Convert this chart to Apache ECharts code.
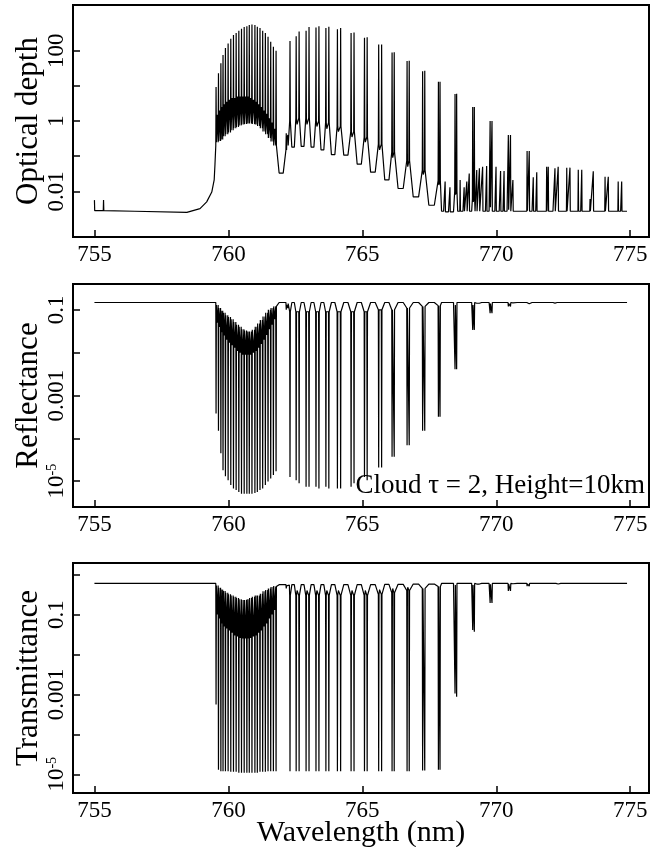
<!DOCTYPE html>
<html>
<head>
<meta charset="utf-8">
<script src="https://cdn.jsdelivr.net/npm/echarts@6.0.0/dist/echarts.min.js"></script>
<style>
html, body { margin: 0; padding: 0; background: #fff; }
#chart { width: 670px; height: 847px; }
</style>
</head>
<body>
<div id="chart"></div>
<script>
// O2 A-band: optical depth, reflectance, transmittance (cloud tau=2 at 10 km)
var SERIF = '"Liberation Serif", "Times New Roman", serif';

// line centres (nm)
var lineNm = [
  759.54, 759.63, 759.72, 759.80, 759.89, 759.99, 760.09, 760.19, 760.29, 760.39,
  760.49, 760.59, 760.69, 760.78, 760.88, 760.99, 761.08, 761.18, 761.28, 761.38,
  761.48, 761.58, 761.68, 761.78, 762.16, 762.22, 762.30, 762.53, 762.64, 762.90,
  763.01, 763.27, 763.38, 763.64, 763.75, 764.07, 764.19, 764.58, 764.69, 765.08,
  765.18, 765.61, 765.72, 766.11, 766.19, 766.67, 766.75, 767.25, 767.33, 767.84,
  767.90, 768.09, 768.27, 768.46, 768.52, 768.65, 768.80, 768.90, 768.99, 769.12,
  769.18, 769.27, 769.37, 769.49, 769.64, 769.77, 769.84, 769.99, 770.16, 770.29,
  770.45, 770.53, 770.62, 771.15, 771.23, 771.38, 771.51, 771.88, 771.94, 772.19,
  772.31, 772.63, 772.75, 773.06, 773.19, 773.50, 773.62, 774.06, 774.18, 774.55,
  774.68
];

// optical depth at line centre / at the foot of the line (null = flat) / between lines
var tauPeak = [
  9.3, 23, 44, 76, 120, 160, 220, 280, 320, 370,
  420, 470, 500, 540, 560, 540, 480, 440, 370, 320,
  250, 180, 130, 100, 0.45, 0.4, 190, 260, 350, 370,
  470, 460, 500, 440, 480, 410, 440, 320, 330, 235,
  240, 150, 150, 89, 91, 51, 52, 26, 27, 13,
  13, 0.019, 0.013, 5.9, 6, 0.021, 0.013, 0.019, 0.032, 2.5,
  2.5, 0.04, 0.045, 0.05, 0.052, 1, 1, 0.05, 0.038, 0.038,
  0.4, 0.4, 0.021, 0.14, 0.14, 0.025, 0.035, 0.05, 0.05, 0.045,
  0.05, 0.047, 0.047, 0.041, 0.041, 0.006, 0.037, 0.026, 0.026, 0.019,
  0.019
];
var tauFoot = [
  null, null, null, null, null, null, null, null, null, null,
  null, null, null, null, null, null, null, null, null, null,
  null, null, null, 0.2, 0.15, null, 1.0, 1.2, 1.2, 1.2,
  1.2, 1.0, 1.0, 0.9, 0.9, 0.7, 0.7, 0.5, 0.5, 0.35,
  0.35, 0.22, 0.22, 0.13, 0.13, 0.075, 0.075, 0.04, 0.04, 0.02,
  0.02, null, null, 0.01, 0.01, null, null, null, null, 0.006,
  0.006, null, null, null, null, null, null, null, null, null,
  null, null, null, null, null, null, null, null, null, null,
  null, null, null, null, null, null, null, null, null, null,
  null
];
var tauGap = [
  0.25, 0.27, 0.30, 0.37, 0.42, 0.47, 0.55, 0.62, 0.68, 0.75,
  0.80, 0.82, 0.85, 0.85, 0.82, 0.80, 0.72, 0.62, 0.50, 0.42,
  0.33, 0.26, 0.20, 0.033, 0.3, 0.2, 0.18, 0.8, 0.19, 0.8,
  0.18, 0.7, 0.15, 0.6, 0.11, 0.5, 0.107, 0.35, 0.059, 0.25,
  0.035, 0.15, 0.021, 0.09, 0.012, 0.05, 0.0069, 0.03, 0.004, 0.015,
  0.0027, 0.0026, 0.0026, 0.008, 0.0027, 0.0027, 0.0027, 0.0027, 0.0027, 0.005,
  0.0027, 0.0027, 0.0027, 0.0027, 0.0027, 0.0035, 0.0027, 0.0027, 0.0027, 0.0027,
  0.003, 0.0027, 0.0027, 0.0028, 0.0027, 0.0027, 0.0027, 0.0027, 0.0027, 0.0027,
  0.0027, 0.0027, 0.0027, 0.0027, 0.0027, 0.0027, 0.0027, 0.0027, 0.0027, 0.0027
];
// weaker lines sitting between the strong R-branch lines (one per gap, gaps 1-23)
var tauSub = [
  1.5, 2, 2.5, 3, 3.5, 4, 4.5, 4.5, 5, 5,
  5, 5, 5, 4.5, 4, 3.5, 3, 2.5, 2, 1.6,
  1.2, 0.9, 0.6
];

// reflectance
var reflDip = [
  3.8e-4, 1.5e-4, 4.5e-5, 1.8e-5, 1.3e-5, 1.05e-5, 8.1e-6, 6.8e-6, 6.2e-6, 5.6e-6,
  5.1e-6, 5.1e-6, 5.1e-6, 5.1e-6, 5.1e-6, 5.3e-6, 5.6e-6, 6.2e-6, 6.8e-6, 8.1e-6,
  9.8e-6, 1.15e-5, 1.4e-5, 1.7e-5, 0.1, 0.11, 1.26e-5, 1.05e-5, 8.9e-6, 7.4e-6,
  7.4e-6, 7.4e-6, 6.8e-6, 7.4e-6, 6.8e-6, 6.8e-6, 6.8e-6, 7.4e-6, 8.9e-6, 1.26e-5,
  1.05e-5, 2.1e-5, 2.1e-5, 3.7e-5, 3.7e-5, 6.9e-5, 6.9e-5, 1.5e-4, 1.5e-4, 3.2e-4,
  3.2e-4, 0.145, 0.145, 4.1e-3, 4.1e-3, 0.145, 0.145, 0.145, 0.143, 0.034,
  0.034, 0.142, 0.142, 0.142, 0.142, 0.083, 0.083, 0.142, 0.143, 0.143,
  0.12, 0.12, 0.145, 0.138, 0.138, 0.145, 0.144, 0.143, 0.143, 0.143,
  0.143, 0.143, 0.143, 0.144, 0.144, 0.147, 0.144, 0.145, 0.145, 0.146,
  0.146
];
var reflFoot = [
  null, null, null, null, null, null, null, null, null, null,
  null, null, null, null, null, null, null, null, null, null,
  null, null, null, 0.12, null, null, 0.09, 0.09, 0.09, 0.09,
  0.09, 0.09, 0.09, 0.09, 0.09, 0.09, 0.09, 0.09, 0.09, 0.09,
  0.09, 0.1, 0.1, 0.1, 0.1, 0.11, 0.11, 0.12, 0.12, 0.125,
  0.125, null, null, null, null, null, null, null, null, null,
  null, null, null, null, null, null, null, null, null, null,
  null, null, null, null, null, null, null, null, null, null,
  null, null, null, null, null, null, null, null, null, null,
  null
];
var reflGap = [
  0.13, 0.11, 0.095, 0.085, 0.075, 0.068, 0.06, 0.052, 0.045, 0.04,
  0.035, 0.033, 0.031, 0.031, 0.034, 0.04, 0.048, 0.058, 0.07, 0.085,
  0.10, 0.11, 0.12, 0.148, 0.13, 0.14, 0.148, 0.1, 0.148, 0.1,
  0.148, 0.1, 0.148, 0.1, 0.148, 0.1, 0.148, 0.1, 0.148, 0.1,
  0.148, 0.11, 0.148, 0.11, 0.148, 0.12, 0.148, 0.12, 0.148, 0.13,
  0.148, 0.148, 0.148, 0.13, 0.148, 0.148, 0.148, 0.148, 0.148, 0.13,
  0.148, 0.148, 0.148, 0.148, 0.148, 0.14, 0.148, 0.148, 0.148, 0.148,
  0.14, 0.148, 0.148, 0.145, 0.148, 0.148, 0.148, 0.148, 0.148, 0.148,
  0.148, 0.148, 0.148, 0.148, 0.148, 0.148, 0.148, 0.148, 0.148, 0.148
];
var reflSub = [
  0.05, 0.04, 0.03, 0.025, 0.02, 0.017, 0.015, 0.013, 0.011, 0.01,
  0.009, 0.009, 0.009, 0.009, 0.01, 0.011, 0.013, 0.016, 0.02, 0.026,
  0.035, 0.045, 0.06
];

// transmittance
var transDip = [
  5.6e-4, 1.3e-5, 1.2e-5, 1.2e-5, 1.2e-5, 1.2e-5, 1.15e-5, 1.15e-5, 1.15e-5, 1.1e-5,
  1.1e-5, 1.1e-5, 1.1e-5, 1.1e-5, 1.1e-5, 1.1e-5, 1.1e-5, 1.15e-5, 1.15e-5, 1.15e-5,
  1.2e-5, 1.2e-5, 1.2e-5, 1.2e-5, 0.45, 0.47, 1.2e-5, 1.2e-5, 1.2e-5, 1.2e-5,
  1.2e-5, 1.2e-5, 1.2e-5, 1.2e-5, 1.2e-5, 1.2e-5, 1.2e-5, 1.2e-5, 1.2e-5, 1.2e-5,
  1.2e-5, 1.2e-5, 1.2e-5, 1.2e-5, 1.2e-5, 1.2e-5, 1.2e-5, 1.25e-5, 1.25e-5, 1.3e-5,
  1.3e-5, 0.59, 0.59, 1.05e-3, 8.7e-4, 0.59, 0.59, 0.59, 0.58, 0.041,
  0.037, 0.58, 0.58, 0.58, 0.58, 0.195, 0.195, 0.58, 0.58, 0.58,
  0.39, 0.39, 0.59, 0.51, 0.51, 0.59, 0.585, 0.58, 0.58, 0.58,
  0.58, 0.58, 0.58, 0.585, 0.585, 0.6, 0.585, 0.59, 0.59, 0.59,
  0.59
];
var transFoot = [
  null, null, null, null, null, null, null, null, null, null,
  null, null, null, null, null, null, null, null, null, null,
  null, null, null, 0.5, null, null, 0.3, 0.3, 0.3, 0.3,
  0.3, 0.3, 0.3, 0.3, 0.3, 0.3, 0.3, 0.3, 0.3, 0.3,
  0.3, 0.32, 0.32, 0.35, 0.35, 0.4, 0.4, 0.45, 0.45, 0.5,
  0.5, null, null, null, null, null, null, null, null, null,
  null, null, null, null, null, null, null, null, null, null,
  null, null, null, null, null, null, null, null, null, null,
  null, null, null, null, null, null, null, null, null, null,
  null
];
var transGap = [
  0.53, 0.47, 0.42, 0.39, 0.35, 0.32, 0.30, 0.28, 0.26, 0.24,
  0.23, 0.23, 0.24, 0.26, 0.28, 0.30, 0.30, 0.33, 0.38, 0.41,
  0.45, 0.49, 0.52, 0.56, 0.52, 0.55, 0.56, 0.4, 0.56, 0.4,
  0.56, 0.4, 0.56, 0.4, 0.56, 0.4, 0.56, 0.4, 0.56, 0.4,
  0.56, 0.42, 0.57, 0.45, 0.57, 0.48, 0.58, 0.5, 0.58, 0.52,
  0.6, 0.6, 0.6, 0.55, 0.6, 0.6, 0.6, 0.6, 0.6, 0.55,
  0.6, 0.6, 0.6, 0.6, 0.6, 0.57, 0.6, 0.6, 0.6, 0.6,
  0.58, 0.6, 0.6, 0.59, 0.6, 0.6, 0.6, 0.6, 0.6, 0.6,
  0.6, 0.6, 0.6, 0.6, 0.6, 0.6, 0.6, 0.6, 0.6, 0.6
];
var transSub = [
  0.1, 0.08, 0.06, 0.05, 0.045, 0.04, 0.035, 0.03, 0.028, 0.026,
  0.025, 0.025, 0.025, 0.026, 0.028, 0.03, 0.035, 0.04, 0.05, 0.06,
  0.08, 0.1, 0.13
];

// continuum before the band head and at the red end
var tauEdgeNm = [755.00, 755.01, 755.33, 755.34, 755.35, 756.50, 758.45, 758.94, 759.19, 759.38, 759.47, 759.50, 759.53];
var tauEdge = [0.0056, 0.0028, 0.0028, 0.0056, 0.0028, 0.0027, 0.0025, 0.0032, 0.005, 0.0095, 0.021, 0.06, 0.2];
var reflEdgeNm = [755.00, 759.53];
var reflEdge = [0.148, 0.148];
var transEdgeNm = [755.00, 759.53];
var transEdge = [0.6, 0.6];
var endNm = 774.88;
var tauEnd = 0.0027, reflEnd = 0.148, transEnd = 0.6;

// axes
var xTicks = [755, 760, 765, 770, 775];
var tauTicks = [0.01, 0.1, 1, 10, 100];
var tauLabels = [0.01, 1, 100];
var reflTicks = [1e-5, 1e-4, 0.001, 0.01, 0.1];
var reflLabels = [1e-5, 0.001, 0.1];
var transTicks = [1e-5, 1e-4, 0.001, 0.01, 0.1, 1];
var transLabels = [1e-5, 0.001, 0.1];

var HALF = 0.012; // half width of a drawn line core, nm

function spectrum(edgeNm, edgeVal, peak, foot, gap, sub, endVal) {
  var pts = edgeNm.map(function (x, i) { return [x, edgeVal[i]]; });
  var n = lineNm.length;
  for (var i = 0; i < n; i++) {
    var c = lineNm[i];
    var lf = foot[i] != null ? foot[i] : (i > 0 ? gap[i - 1] : null);
    var rf = foot[i] != null ? foot[i] : (i < n - 1 ? gap[i] : endVal);
    if (lf != null) pts.push([c - HALF, lf]);
    pts.push([c, peak[i]]);
    pts.push([c + HALF, rf]);
    if (i < n - 1) {
      var w = lineNm[i + 1] - c;
      if (i < sub.length) {
        pts.push([c + w / 2, sub[i]]);
      } else {
        pts.push([c + w * 0.3, gap[i]]);
        pts.push([c + w * 0.7, gap[i]]);
      }
    }
  }
  pts.push([endNm, endVal]);
  return pts;
}

var labelText = { '-5': '10{sup|-5}', '-3': '0.001', '-2': '0.01', '-1': '0.1', '0': '1', '2': '100' };

function xAxisOf(idx, last) {
  var ax = {
    type: 'value', gridIndex: idx, min: 754.2, max: 775.7,
    axisLine: { show: false },
    splitLine: { show: false },
    axisTick: { inside: true, length: 7, lineStyle: { color: '#000', width: 1.5 }, customValues: xTicks },
    axisLabel: { margin: 6, fontFamily: SERIF, fontSize: 23, color: '#000', customValues: xTicks }
  };
  if (last) {
    ax.name = 'Wavelength (nm)';
    ax.nameLocation = 'middle';
    ax.nameGap = 25;
    ax.nameMoveOverlap = false;
    ax.nameTextStyle = { fontFamily: SERIF, fontSize: 30, color: '#000', verticalAlign: 'top' };
  }
  return ax;
}

function yAxisOf(idx, name, min, max, ticks, labels) {
  return {
    type: 'log', logBase: 10, gridIndex: idx, min: min, max: max,
    name: name, nameLocation: 'middle', nameRotate: 90, nameGap: 29, nameMoveOverlap: false,
    nameTextStyle: { fontFamily: SERIF, fontSize: 31, color: '#000' },
    axisLine: { show: false },
    splitLine: { show: false },
    axisTick: { inside: true, length: 7, lineStyle: { color: '#000', width: 1.5 }, customValues: ticks },
    axisLabel: {
      rotate: 90, margin: 5, fontFamily: SERIF, fontSize: 23, color: '#000',
      customValues: labels,
      formatter: function (v) {
        var e = Math.round(Math.log10(v));
        return labelText[String(e)] || String(v);
      },
      rich: { sup: { fontFamily: SERIF, fontSize: 14, color: '#000', verticalAlign: 'top' } }
    }
  };
}

function lineSeries(idx, data) {
  return {
    type: 'line', xAxisIndex: idx, yAxisIndex: idx, data: data,
    showSymbol: false, symbol: 'none', clip: true, animation: false,
    lineStyle: { color: '#000', width: 1.2 }
  };
}

var gridBase = { left: 73, right: 21, show: true, borderColor: '#000', borderWidth: 2, backgroundColor: 'transparent', outerBoundsMode: 'none' };

var chart = echarts.init(document.getElementById('chart'), null, { renderer: 'canvas' });
var option = {
  backgroundColor: '#fff',
  animation: false,
  grid: [
    Object.assign({ top: 5, height: 232 }, gridBase),
    Object.assign({ top: 284, height: 223 }, gridBase),
    Object.assign({ top: 563, height: 230 }, gridBase)
  ],
  xAxis: [xAxisOf(0, false), xAxisOf(1, false), xAxisOf(2, true)],
  yAxis: [
    yAxisOf(0, 'Optical depth', 0.0005, 2000, tauTicks, tauLabels),
    yAxisOf(1, 'Reflectance', 2.5e-6, 0.4, reflTicks, reflLabels),
    yAxisOf(2, 'Transmittance', 3.4e-6, 1.95, transTicks, transLabels)
  ],
  series: [
    lineSeries(0, spectrum(tauEdgeNm, tauEdge, tauPeak, tauFoot, tauGap, tauSub, tauEnd)),
    lineSeries(1, spectrum(reflEdgeNm, reflEdge, reflDip, reflFoot, reflGap, reflSub, reflEnd)),
    lineSeries(2, spectrum(transEdgeNm, transEdge, transDip, transFoot, transGap, transSub, transEnd))
  ],
  graphic: [{
    type: 'text', x: 645, y: 486,
    style: { text: 'Cloud \u03c4 = 2, Height=10km', font: '27px ' + SERIF, fill: '#000', align: 'right', verticalAlign: 'middle' }
  }]
};
chart.setOption(option);
</script>
</body>
</html>
